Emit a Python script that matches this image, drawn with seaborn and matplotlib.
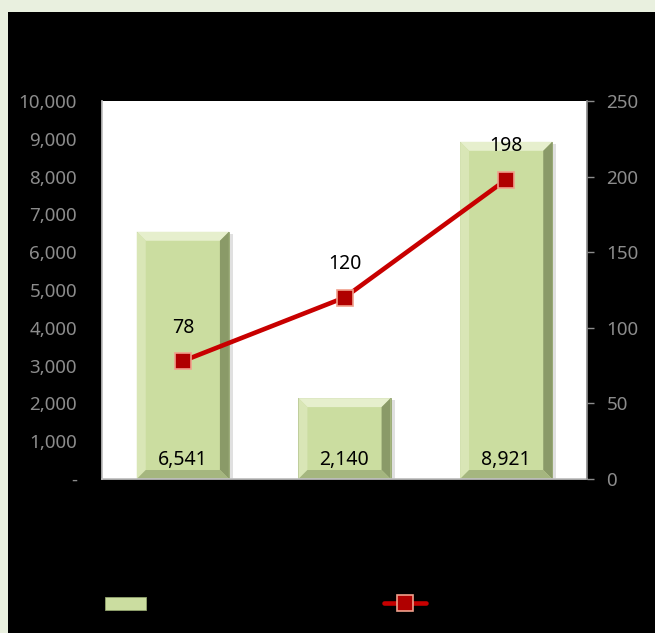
"""Bar + line combo chart on a black card."""

import matplotlib

matplotlib.use("Agg")
import matplotlib.pyplot as plt
import numpy as np
import pandas as pd
import seaborn as sns
from matplotlib.patches import Polygon, Rectangle
from matplotlib.ticker import FuncFormatter

# data
categories = ["Category 1", "Category 2", "Category 3"]
amounts = [6541, 2140, 8921]
counts = [78, 120, 198]
amount_ticks = list(range(0, 10001, 1000))
count_ticks = list(range(0, 251, 50))
series_names = ["Amount", "Count"]

df = pd.DataFrame({"category": categories, "amount": amounts, "count": counts})

sns.set_theme(style="white")
plt.rcParams["font.family"] = ["Noto Sans", "DejaVu Sans"]

BAR_FACE = "#cbdda0"
BEVEL_TOP = "#e6efcd"
BEVEL_LEFT = "#d9e6b6"
BEVEL_RIGHT = "#8a9a68"
BEVEL_BOTTOM = "#a5b67f"
LINE_RED = "#c80000"
TICK_GREY = "#8c8c8c"

W, H = 655, 633
fig = plt.figure(figsize=(W / 100, H / 100), dpi=100, facecolor="#e9f0df")
fig.add_artist(Rectangle((8 / W, 0), 1, 1 - 12 / H, transform=fig.transFigure,
                         facecolor="black", edgecolor="none", zorder=-10))

ax_left, ax_top, ax_right, ax_bottom = 102, 101, 587, 479
ax = fig.add_axes([ax_left / W, 1 - ax_bottom / H,
                   (ax_right - ax_left) / W, (ax_bottom - ax_top) / H])
ax.set_facecolor("white")

sns.barplot(data=df, x="category", y="amount", color=BAR_FACE, saturation=1,
            width=0.57, edgecolor="#93a46e", linewidth=0.6, ax=ax, zorder=2)
ax.set_xlim(-0.5, len(categories) - 0.5)
ax.set_ylim(amount_ticks[0], amount_ticks[-1])
ax.set_yticks(amount_ticks)
ax.yaxis.set_major_formatter(FuncFormatter(lambda v, _: "-" if v == 0 else f"{v:,.0f}"))
ax.set_xlabel("")
ax.set_ylabel("")
ax.tick_params(axis="y", length=0, colors=TICK_GREY, labelsize=13.5, pad=18)
ax.tick_params(axis="x", length=0, colors="black", labelsize=13.5)
for side in ["top", "right"]:
    ax.spines[side].set_visible(False)
ax.spines["left"].set_color("#bfbfbf")
ax.spines["bottom"].set_color("#bfbfbf")

# bevel on each bar, built from the patch geometry
x_per_px = (ax.get_xlim()[1] - ax.get_xlim()[0]) / (ax_right - ax_left)
y_per_px = (ax.get_ylim()[1] - ax.get_ylim()[0]) / (ax_bottom - ax_top)
bx, by = 9 * x_per_px, 9 * y_per_px
for p in list(ax.patches):
    x0, w, h = p.get_x(), p.get_width(), p.get_height()
    ax.add_patch(Rectangle((x0 + 4 * x_per_px, -2 * y_per_px), w, h, facecolor="#000000",
                           alpha=0.12, edgecolor="none", zorder=1.5))
    faces = [
        ([(x0, h), (x0 + w, h), (x0 + w - bx, h - by), (x0 + bx, h - by)], BEVEL_TOP),
        ([(x0, 0), (x0, h), (x0 + bx, h - by), (x0 + bx, by)], BEVEL_LEFT),
        ([(x0 + w, 0), (x0 + w, h), (x0 + w - bx, h - by), (x0 + w - bx, by)], BEVEL_RIGHT),
        ([(x0, 0), (x0 + w, 0), (x0 + w - bx, by), (x0 + bx, by)], BEVEL_BOTTOM),
    ]
    for pts, col in faces:
        ax.add_patch(Polygon(pts, closed=True, facecolor=col, edgecolor="none", zorder=2.5))

for i, v in enumerate(amounts):
    ax.annotate(f"{v:,}", (i, 0), xytext=(0, 14), textcoords="offset points",
                ha="center", va="center", fontsize=14, color="black", zorder=4)

# secondary axis with the line
ax2 = ax.twinx()
sns.lineplot(data=df, x="category", y="count", ax=ax2, color=LINE_RED, linewidth=3.3,
             marker="s", markersize=11, markerfacecolor="#b00000",
             markeredgecolor="#f0a08c", markeredgewidth=1.2, zorder=5)
ax2.set_ylim(count_ticks[0], count_ticks[-1])
ax2.set_yticks(count_ticks)
ax2.set_ylabel("")
ax2.set_xlabel("")
ax2.tick_params(axis="y", length=5, width=1, colors=TICK_GREY, labelsize=13.5, pad=9)
for side in ["top", "left", "bottom"]:
    ax2.spines[side].set_visible(False)
ax2.spines["right"].set_color(TICK_GREY)

for i, v in enumerate(counts):
    ax2.annotate(f"{v}", (i, v), xytext=(0, 24), textcoords="offset points",
                 ha="center", va="center", fontsize=14, color="black")

handles = [ax.patches[0], ax2.lines[0]]
fig.legend(handles, series_names, loc="center left",
           bbox_to_anchor=(105 / W, 1 - 605 / H), ncol=2, frameon=False,
           fontsize=11, labelcolor="black", handlelength=2.7, handleheight=0.9,
           handletextpad=0.8, columnspacing=11.0, borderpad=0, borderaxespad=0)

fig.savefig("out.png", dpi=100, facecolor=fig.get_facecolor())
plt.close(fig)
